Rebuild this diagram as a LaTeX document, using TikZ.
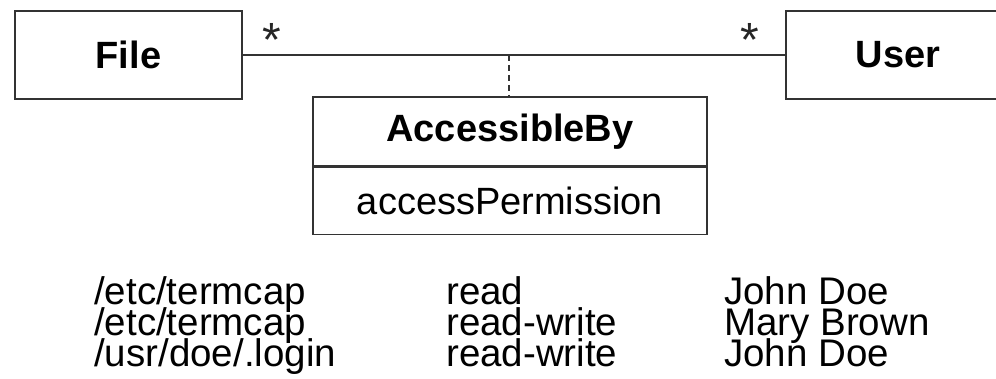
\documentclass[tikz,border=0pt]{standalone}
\usepackage{fontspec}
\setmainfont{Liberation Sans}
\begin{document}
\begin{tikzpicture}[x=1pt,y=1pt,
  box/.style={draw=black!80, line width=1.4pt, rectangle, inner sep=0pt, font=\fontsize{38}{38}\selectfont},
  cls/.style={box, font=\fontsize{38}{38}\selectfont\bfseries},
  conn/.style={draw=black!80, line width=1.4pt},
  mult/.style={anchor=base, inner sep=0pt, font=\fontsize{48}{48}\selectfont, text=black!85},
  cell/.style={anchor=base west, inner sep=0pt, font=\fontsize{38.5}{38.5}\selectfont}]
\useasboundingbox (0,0) rectangle (996,378);
\fill[white] (0,0) rectangle (996,378);
% classes
\node[cls, minimum width=227, minimum height=88] (file) at (128.5,323) {File};
\node[cls, minimum width=224, minimum height=88] (user) at (898,323) {User};
% association class
\node[cls, minimum width=394, minimum height=69] (ab) at (510,246.5) {AccessibleBy};
\node[box, minimum width=394, minimum height=67, anchor=north] (attr) at (ab.south) {accessPermission};
% association
\draw[conn] (file.east) -- (user.west);
\coordinate (mid) at (509,323);
\draw[conn, dashed, dash pattern=on 6pt off 4pt, line width=1.2pt] (mid) -- (ab.north -| mid);
% multiplicities
\node[mult] (m1) at (272,321) {*};
\node[mult] (m2) at (750,321) {*};
% instance table
\node[cell] (r1c1) at (94,74) {/etc/termcap};
\node[cell] (r2c1) at (94,43) {/etc/termcap};
\node[cell] (r3c1) at (94,12) {/usr/doe/.login};
\node[cell] (r1c2) at (446,74) {read};
\node[cell] (r2c2) at (446,43) {read-write};
\node[cell] (r3c2) at (446,12) {read-write};
\node[cell] (r1c3) at (724,74) {John Doe};
\node[cell] (r2c3) at (724,43) {Mary Brown};
\node[cell] (r3c3) at (724,12) {John Doe};
\end{tikzpicture}
\end{document}
